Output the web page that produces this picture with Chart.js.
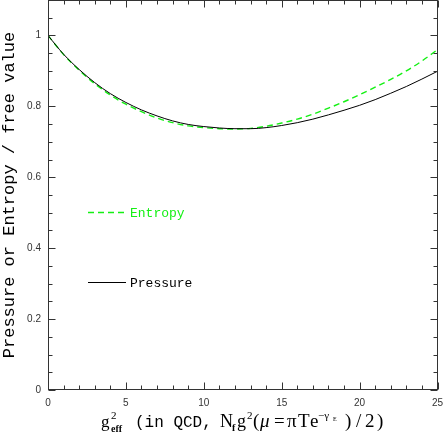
<!DOCTYPE html>
<html>
<head>
<meta charset="utf-8">
<script src="https://cdn.jsdelivr.net/npm/chart.js@4.4.0/dist/chart.umd.min.js"></script>
<style>
  html, body { margin: 0; padding: 0; background: #fff; }
  #wrap { position: relative; width: 443px; height: 436px; }
</style>
</head>
<body>
<div id="wrap"><canvas id="chart" width="443" height="436"></canvas></div>
<script>
// g_eff^2 sample points and ratios
const gValues = [0, 1, 2, 3, 4, 5, 6, 7, 8, 9, 10, 11, 12, 13, 14, 15, 16, 17, 18, 19, 20, 21, 22, 23, 24, 25];
const pressure = [1.000, 0.947, 0.904, 0.867, 0.836, 0.811, 0.790, 0.773, 0.759, 0.749, 0.743, 0.739, 0.737,
                  0.737, 0.740, 0.746, 0.754, 0.764, 0.776, 0.789, 0.803, 0.819, 0.837, 0.856, 0.877, 0.899];
const entropy = [1.000, 0.946, 0.902, 0.864, 0.832, 0.806, 0.785, 0.767, 0.754, 0.745, 0.740, 0.737, 0.736,
                 0.738, 0.744, 0.753, 0.764, 0.778, 0.795, 0.813, 0.833, 0.854, 0.876, 0.900, 0.928, 0.960];
const seriesLabels = ['Pressure', 'Entropy'];
const xMajorStep = 5, xMinorStep = 1;
const yMajorStep = 0.2, yMinorStep = 0.05;

const GREEN = '#14f014';
const MONO = '"Liberation Mono", "DejaVu Sans Mono", monospace';
const SERIF = '"Liberation Serif", "DejaVu Serif", serif';

function toPoints(ys) {
  return gValues.map((g, i) => ({ x: g, y: ys[i] }));
}

function isMultiple(v, step) {
  const r = v / step;
  return Math.abs(r - Math.round(r)) < 1e-6;
}

// x title pieces placed at fixed x (px); dy shifts sup/subscripts
const xTitleParts = [
  { t: 'g', x: 101, font: '17px ' + SERIF },
  { t: '2', x: 111, font: '11px ' + SERIF, dy: -8 },
  { t: 'eff', x: 111, font: 'bold 10px ' + SERIF, dy: 5 },
  { t: '(in QCD,', x: 135, font: '16px ' + MONO },
  { t: 'N', x: 220, font: '18px ' + SERIF },
  { t: 'f', x: 232, font: 'bold 10px ' + SERIF, dy: 4 },
  { t: 'g', x: 237, font: '18px ' + SERIF },
  { t: '2', x: 247, font: '11px ' + SERIF, dy: -8 },
  { t: '(', x: 253, font: '19px ' + SERIF },
  { t: 'μ', x: 260, font: 'italic 19px ' + SERIF },
  { t: '=', x: 274, font: '19px ' + SERIF },
  { t: 'π', x: 287, font: '19px ' + SERIF },
  { t: 'T', x: 298, font: '19px ' + SERIF },
  { t: 'e', x: 310, font: '19px ' + SERIF },
  { t: '−γ', x: 318, font: '11px ' + SERIF, dy: -8 },
  { t: 'E', x: 333, font: '6px ' + SERIF, dy: -6 },
  { t: ')', x: 345, font: '19px ' + SERIF },
  { t: '/', x: 356, font: '19px ' + SERIF },
  { t: '2', x: 365, font: '19px ' + SERIF },
  { t: ')', x: 377, font: '19px ' + SERIF }
];

const framePlugin = {
  id: 'frame',
  afterDraw(chart) {
    const { ctx, chartArea: a, scales: { x, y } } = chart;
    ctx.save();
    const L = Math.round(a.left) + 0.5, R = Math.round(a.right) - 0.5;
    const T = Math.round(a.top) + 0.5, B = Math.round(a.bottom) - 0.5;

    // box with inward ticks on all four sides
    ctx.strokeStyle = '#333';
    ctx.lineWidth = 1;
    ctx.strokeRect(L, T, R - L, B - T);
    ctx.beginPath();
    for (let v = x.min; v <= x.max + 1e-9; v += xMinorStep) {
      const px = Math.round(x.getPixelForValue(v)) + 0.5;
      const len = isMultiple(v, xMajorStep) ? 7 : 4;
      ctx.moveTo(px, B); ctx.lineTo(px, B - len);
      ctx.moveTo(px, T); ctx.lineTo(px, T + len);
    }
    for (let i = 0; y.min + i * yMinorStep <= y.max + 1e-9; i++) {
      const v = y.min + i * yMinorStep;
      const py = Math.round(y.getPixelForValue(v)) + 0.5;
      const len = isMultiple(v, yMajorStep) ? 7 : 4;
      ctx.moveTo(L, py); ctx.lineTo(L + len, py);
      ctx.moveTo(R, py); ctx.lineTo(R - len, py);
    }
    ctx.stroke();

    // legend inside the plot
    const rows = [{ idx: 1, y: 212.5 }, { idx: 0, y: 282.5 }];
    rows.forEach(r => {
      const ds = chart.data.datasets[r.idx];
      ctx.strokeStyle = ds.borderColor;
      ctx.lineWidth = ds.borderWidth;
      ctx.setLineDash(ds.borderDash || []);
      ctx.beginPath();
      ctx.moveTo(88, r.y); ctx.lineTo(126, r.y);
      ctx.stroke();
      ctx.setLineDash([]);
      ctx.fillStyle = ds.borderColor;
      ctx.font = '13px ' + MONO;
      ctx.textAlign = 'left';
      ctx.textBaseline = 'middle';
      ctx.fillText(ds.label, 130, r.y + 1);
    });

    // axis titles
    ctx.fillStyle = '#000';
    ctx.save();
    ctx.translate(14, (a.top + a.bottom) / 2);
    ctx.rotate(-Math.PI / 2);
    ctx.font = '17px ' + MONO;
    ctx.textAlign = 'center';
    ctx.textBaseline = 'alphabetic';
    ctx.fillText('Pressure or Entropy / free value', 0, 0);
    ctx.restore();

    ctx.textAlign = 'left';
    ctx.textBaseline = 'alphabetic';
    xTitleParts.forEach(p => {
      ctx.font = p.font;
      ctx.fillText(p.t, p.x, 427 + (p.dy || 0));
    });
    ctx.restore();
  }
};

new Chart(document.getElementById('chart'), {
  type: 'line',
  data: {
    datasets: [
      {
        label: seriesLabels[0],
        data: toPoints(pressure),
        borderColor: '#000',
        borderWidth: 1,
        pointRadius: 0,
        cubicInterpolationMode: 'monotone',
        fill: false
      },
      {
        label: seriesLabels[1],
        data: toPoints(entropy),
        borderColor: GREEN,
        borderWidth: 1.4,
        borderDash: [6, 4],
        pointRadius: 0,
        cubicInterpolationMode: 'monotone',
        fill: false
      }
    ]
  },
  options: {
    responsive: false,
    animation: false,
    devicePixelRatio: 1,
    layout: { padding: 0 },
    plugins: { legend: { display: false }, tooltip: { enabled: false } },
    scales: {
      x: {
        type: 'linear',
        min: 0,
        max: 25,
        grid: { display: false, drawTicks: false },
        border: { display: false },
        afterFit: scale => {
          scale.height = 46;
          scale.paddingLeft = 0;
          scale.paddingRight = 5.5;
        },
        ticks: {
          stepSize: xMajorStep,
          autoSkip: false,
          maxRotation: 0,
          padding: 7,
          color: '#333',
          font: { family: '"Liberation Sans", Arial, sans-serif', size: 10 },
          callback: v => (isMultiple(v, xMajorStep) ? String(Math.round(v)) : null)
        }
      },
      y: {
        min: 0,
        max: 1.1,
        grid: { display: false, drawTicks: false },
        border: { display: false },
        afterFit: scale => {
          scale.width = 48;
          scale.paddingTop = 0;
          scale.paddingBottom = 0;
        },
        ticks: {
          stepSize: yMajorStep,
          autoSkip: false,
          padding: 7,
          color: '#333',
          font: { family: '"Liberation Sans", Arial, sans-serif', size: 10 },
          callback: v => (isMultiple(v, yMajorStep) ? String(Math.round(v * 10) / 10) : null)
        }
      }
    }
  },
  plugins: [framePlugin]
});
</script>
</body>
</html>
